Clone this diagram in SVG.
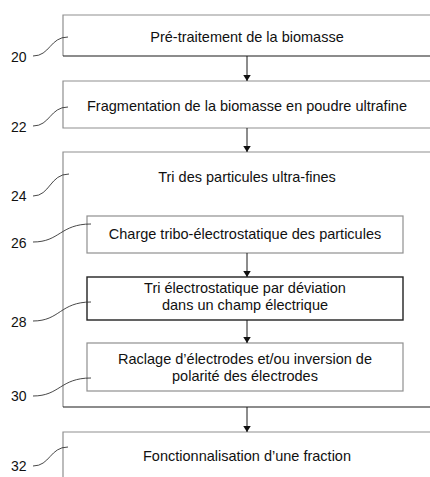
<svg xmlns="http://www.w3.org/2000/svg" width="430" height="477" viewBox="0 0 430 477">
<style>
.g{fill:none;stroke:#8f8f8f;stroke-width:1.2}
.k{fill:none;stroke:#1a1a1a;stroke-width:1.2}
.lead{fill:none;stroke:#333;stroke-width:0.9}
.c{stroke:#1a1a1a;stroke-width:1;fill:none}
text{font-family:"Liberation Sans",Arial,sans-serif;font-size:14.5px;fill:#111}
.m{text-anchor:middle}
.lb{font-size:14px}
</style>
<defs>
<marker id="ah" viewBox="0 0 8 10" refX="8" refY="5" markerWidth="6" markerHeight="7.5" markerUnits="userSpaceOnUse" orient="auto">
<path d="M0,0 L8,5 L0,10 Z" fill="#111"/>
</marker>
</defs>
<rect width="430" height="477" fill="#fff"/>
<g id="n20">
<path class="g" d="M440,15 H63 V56"/>
<path class="k" d="M63,56 H440"/>
<text class="m" x="247" y="42">Pré-traitement de la biomasse</text>
<text class="lb" x="11" y="62">20</text>
<path class="lead" d="M33,56 C50,56 50,37 68,37"/>
</g>
<g id="n22">
<path class="g" d="M440,81 H63 V128 H440"/>
<text class="m" x="247" y="111">Fragmentation de la biomasse en poudre ultrafine</text>
<text class="lb" x="11" y="132">22</text>
<path class="lead" d="M33,126 C50,126 50,107 68,107"/>
</g>
<g id="n24">
<path class="g" d="M440,152 H63 V407"/>
<path class="k" d="M63,407 H440"/>
<text class="m" x="247" y="182">Tri des particules ultra-fines</text>
<text class="lb" x="11" y="201">24</text>
<path class="lead" d="M33,196 C50,196 50,174 69,174"/>
</g>
<g id="n26">
<rect class="g" x="87" y="216" width="316" height="37"/>
<text class="m" x="245" y="239">Charge tribo-électrostatique des particules</text>
<text class="lb" x="11" y="248">26</text>
<path class="lead" d="M33,242 C60,242 60,224 91,224"/>
</g>
<g id="n28">
<rect x="87" y="277" width="316" height="43" fill="none" stroke="#222" stroke-width="1.4"/>
<text class="m" x="245" y="293">Tri électrostatique par déviation</text>
<text class="m" x="245" y="310">dans un champ électrique</text>
<text class="lb" x="11" y="327">28</text>
<path class="lead" d="M33,321 C60,321 60,302 91,302"/>
</g>
<g id="n30">
<rect class="g" x="87" y="343" width="316" height="48"/>
<text class="m" x="245" y="364">Raclage d’électrodes et/ou inversion de</text>
<text class="m" x="245" y="381">polarité des électrodes</text>
<text class="lb" x="11" y="401">30</text>
<path class="lead" d="M33,396 C60,396 60,378 91,378"/>
</g>
<g id="n32">
<path class="g" d="M440,432 H63 V480"/>
<text class="m" x="247" y="461">Fonctionnalisation d’une fraction</text>
<text class="lb" x="11" y="471">32</text>
<path class="lead" d="M33,466 C50,466 50,447 68,447"/>
</g>
<g id="connectors">
<path class="c" d="M247,56 V81" marker-end="url(#ah)"/>
<path class="c" d="M247,128 V152" marker-end="url(#ah)"/>
<path class="c" d="M247,253 V277" marker-end="url(#ah)"/>
<path class="c" d="M247,320 V343" marker-end="url(#ah)"/>
<path class="c" d="M247,407 V432" marker-end="url(#ah)"/>
</g>
</svg>
